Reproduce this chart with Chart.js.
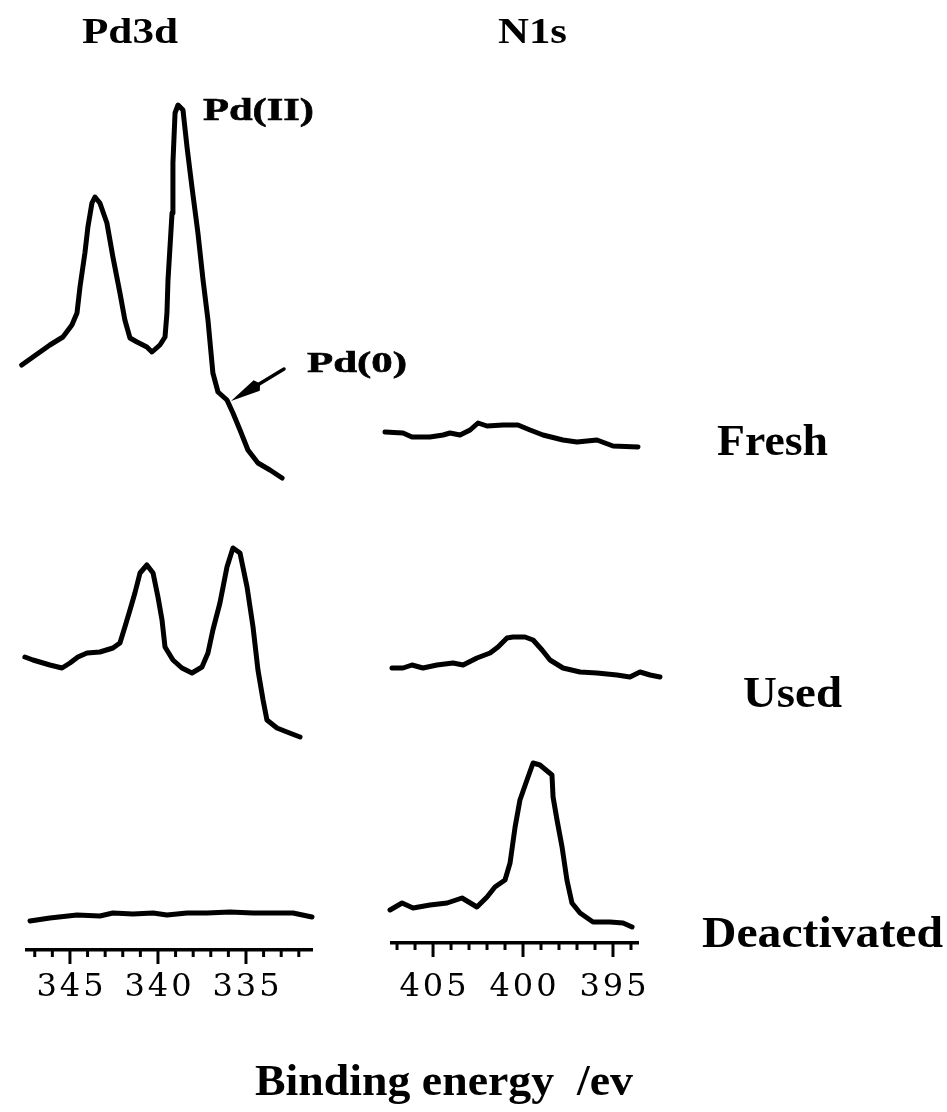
<!DOCTYPE html>
<html>
<head>
<meta charset="utf-8">
<script src="https://cdn.jsdelivr.net/npm/chart.js@4.4.1/dist/chart.umd.min.js"></script>
<style>
  html, body { margin: 0; padding: 0; background: #fff; }
  #wrap { position: relative; width: 947px; height: 1112px; overflow: hidden; background: #fff; }
  canvas { position: absolute; left: 0; top: 0; }
  svg { position: absolute; left: 0; top: 0; }
  svg text { font-family: "Liberation Serif", "Times New Roman", serif; font-weight: bold; fill: #000; white-space: pre; }
</style>
</head>
<body>
<div id="wrap">
  <canvas id="pd" width="947" height="1112"></canvas>
  <canvas id="n1s" width="947" height="1112"></canvas>
  <svg width="947" height="1112" xmlns="http://www.w3.org/2000/svg">
    <text x="82" y="43" font-size="36" textLength="96" lengthAdjust="spacingAndGlyphs">Pd3d</text>
    <text x="498" y="43" font-size="36" textLength="69" lengthAdjust="spacingAndGlyphs">N1s</text>
    <text x="203" y="120" font-size="31" textLength="111" lengthAdjust="spacingAndGlyphs" stroke="#000" stroke-width="0.6">Pd(II)</text>
    <text x="307" y="372" font-size="29" textLength="100" lengthAdjust="spacingAndGlyphs" stroke="#000" stroke-width="0.6">Pd(0)</text>
    <text x="717" y="455" font-size="44" textLength="111" lengthAdjust="spacingAndGlyphs">Fresh</text>
    <text x="743" y="707" font-size="44" textLength="99" lengthAdjust="spacingAndGlyphs">Used</text>
    <text x="702" y="947" font-size="44" textLength="241" lengthAdjust="spacingAndGlyphs">Deactivated</text>
    <text x="255" y="1095" font-size="44" textLength="378" lengthAdjust="spacingAndGlyphs" xml:space="preserve">Binding energy  /ev</text>
  </svg>
</div>
<script>
// ---------------- DATA (binding energy in eV, intensity in a.u.) ----------------
const pdEnergyFresh = [347.74, 347.10, 346.14, 345.40, 344.89, 344.60, 344.43, 344.15, 343.98, 343.75, 343.58, 343.30, 342.90, 342.56, 342.16, 341.88, 341.59, 341.19, 340.63, 340.34, 339.89, 339.60, 339.49, 339.43, 339.20, 339.15, 339.03, 338.86, 338.58, 338.35, 338.07, 337.73, 337.44, 337.16, 336.88, 336.59, 336.08, 335.74, 335.34, 334.89, 334.32, 333.64, 332.95];
const pdFresh = [115, 123, 135, 143, 155, 167, 193, 227, 253, 277, 283, 277, 257, 223, 187, 160, 142, 138, 133, 128, 135, 143, 167, 200, 267, 317, 367, 375, 370, 333, 293, 247, 200, 160, 107, 88, 80, 67, 50, 30, 17, 10, 2];

const pdEnergyUsed = [347.56, 347.10, 346.14, 345.45, 345.00, 344.55, 344.03, 343.30, 342.56, 342.16, 341.88, 341.59, 341.31, 341.02, 340.63, 340.28, 340.00, 339.77, 339.60, 339.15, 338.64, 338.07, 337.50, 337.16, 336.88, 336.48, 336.08, 335.74, 335.34, 334.94, 334.60, 334.32, 334.03, 333.81, 333.24, 332.67, 331.93];
const pdUsed = [83, 80, 75, 72, 77, 83, 87, 88, 92, 97, 113, 130, 147, 167, 175, 167, 143, 120, 93, 80, 72, 67, 73, 87, 110, 137, 173, 192, 187, 153, 113, 70, 40, 20, 12, 8, 3];

const pdEnergyDeact = [347.27, 346.14, 344.60, 343.30, 342.56, 341.42, 340.28, 339.49, 338.35, 337.22, 335.91, 334.60, 333.47, 332.33, 331.25];
const pdDeact = [9, 12, 15, 14, 17, 16, 17, 15, 17, 17, 18, 17, 17, 17, 13];

const nEnergyFresh = [407.67, 406.67, 406.17, 405.17, 404.44, 404.06, 403.50, 402.94, 402.50, 402.00, 401.11, 400.28, 399.61, 398.89, 397.78, 397.00, 395.89, 395.00, 393.61];
const nFresh = [28, 27, 23, 23, 25, 27, 25, 30, 37, 34, 35, 35, 30, 25, 20, 18, 20, 14, 13];

const nEnergyUsed = [407.28, 406.67, 406.17, 405.56, 404.78, 403.89, 403.33, 402.56, 401.83, 401.39, 400.89, 400.56, 399.89, 399.44, 398.94, 398.50, 397.78, 396.83, 395.89, 394.78, 394.06, 393.50, 392.94, 392.39];
const nUsed = [22, 22, 25, 22, 25, 27, 25, 32, 37, 43, 52, 53, 53, 50, 40, 30, 22, 18, 17, 15, 13, 18, 15, 13];

const nEnergyDeact = [407.39, 406.72, 406.11, 405.17, 404.22, 403.39, 402.56, 402.00, 401.56, 401.00, 400.72, 400.44, 400.17, 399.78, 399.44, 399.06, 398.39, 398.33, 398.11, 397.83, 397.56, 397.28, 396.83, 396.11, 395.17, 394.44, 393.94];
const nDeact = [30, 37, 32, 35, 37, 42, 33, 43, 53, 60, 77, 113, 140, 160, 177, 175, 165, 143, 120, 93, 60, 37, 27, 18, 18, 17, 13];

const pdTickLabels = [345, 340, 335];
const nTickLabels = [405, 400, 395];
const pdRange = [331.25, 347.44];
const nRange = [393.61, 407.28];

// ---------------- helpers ----------------
const W = 947, H = 1112;
const pts = (xs, ys) => xs.map((x, i) => ({ x, y: ys[i] }));

const tickMarks = {
  id: 'tickMarks',
  beforeDraw(chart) { chart.ctx.letterSpacing = '3px'; },
  afterDraw(chart) {
    chart.ctx.letterSpacing = '0px';
    const s = chart.scales.x, ctx = chart.ctx;
    ctx.save();
    ctx.strokeStyle = '#000';
    ctx.lineWidth = 3;
    s.ticks.forEach(t => {
      const v = t.value;
      const px = s.getPixelForValue(v);
      const len = v % 5 === 0 ? 14 : 7;
      ctx.beginPath();
      ctx.moveTo(px, s.top);
      ctx.lineTo(px, s.top + len);
      ctx.stroke();
    });
    ctx.restore();
  }
};

const arrowPlugin = {
  id: 'pd0Arrow',
  afterDatasetsDraw(chart, args, opts) {
    if (!opts || !opts.tip) return;
    const xs = chart.scales.x, ys = chart.scales[opts.axis];
    const tx = xs.getPixelForValue(opts.tip[0]), ty = ys.getPixelForValue(opts.tip[1]);
    const sx = xs.getPixelForValue(opts.tail[0]), sy = ys.getPixelForValue(opts.tail[1]);
    const ang = Math.atan2(sy - ty, sx - tx);
    const hl = 30, hw = 6;
    const bx = tx + Math.cos(ang) * hl, by = ty + Math.sin(ang) * hl;
    const ctx = chart.ctx;
    ctx.save();
    ctx.strokeStyle = '#000';
    ctx.fillStyle = '#000';
    ctx.lineWidth = 3.5;
    ctx.lineCap = 'round';
    ctx.beginPath(); ctx.moveTo(bx, by); ctx.lineTo(sx, sy); ctx.stroke();
    ctx.beginPath();
    ctx.moveTo(tx, ty);
    ctx.lineTo(bx + Math.cos(ang + Math.PI / 2) * hw, by + Math.sin(ang + Math.PI / 2) * hw);
    ctx.lineTo(bx + Math.cos(ang) * 4, by + Math.sin(ang) * 4);
    ctx.lineTo(bx + Math.cos(ang - Math.PI / 2) * hw, by + Math.sin(ang - Math.PI / 2) * hw);
    ctx.closePath();
    ctx.fill();
    ctx.restore();
  }
};

function yAxis(box, basePx) {
  const min = basePx - box.bottom;
  return { type: 'linear', display: false, bounds: 'data', min: min, max: min + (box.bottom - box.top) };
}

function line(data, axis) {
  return {
    data, yAxisID: axis, borderColor: '#000', borderWidth: 5, pointRadius: 0,
    tension: 0, fill: false, clip: false, borderJoinStyle: 'round', borderCapStyle: 'round'
  };
}

function makePanel(id, box, range, tickLabels, series, bases, extra, labelPad) {
  const scales = {
    x: {
      type: 'linear', reverse: true, bounds: 'data', min: range[0], max: range[1],
      grid: { display: false, drawTicks: false },
      border: { display: true, color: '#000', width: 3.5 },
      ticks: {
        autoSkip: false, maxRotation: 0, padding: labelPad, labelOffset: 1.5,
        color: '#000', font: { family: 'DejaVu Serif', size: 32 },
        callback: v => tickLabels.includes(v) ? String(v) : ''
      },
      afterBuildTicks: s => {
        const t = [];
        for (let v = Math.ceil(s.min); v <= Math.floor(s.max); v++) t.push({ value: v });
        s.ticks = t;
      },
      afterFit: s => { s.height = 80; }
    },
    yF: yAxis(box, bases[0]),
    yU: yAxis(box, bases[1]),
    yD: yAxis(box, bases[2])
  };
  return new Chart(document.getElementById(id), {
    type: 'line',
    data: {
      datasets: [
        line(series[0], 'yF'),
        line(series[1], 'yU'),
        line(series[2], 'yD')
      ]
    },
    options: {
      responsive: false, animation: false, devicePixelRatio: 1,
      layout: { padding: { left: box.left, right: W - box.right, top: box.top, bottom: H - box.bottom - 80 } },
      plugins: { legend: { display: false }, tooltip: { enabled: false }, title: { display: false }, pd0Arrow: extra || {} },
      scales
    },
    plugins: [tickMarks, arrowPlugin]
  });
}

makePanel('pd', { left: 27, right: 312, top: 60, bottom: 950 }, pdRange, pdTickLabels,
  [pts(pdEnergyFresh, pdFresh), pts(pdEnergyUsed, pdUsed), pts(pdEnergyDeact, pdDeact)],
  [480, 740, 930],
  { axis: 'yF', tip: [335.85, 79], tail: [332.84, 111] }, 18);

makePanel('n1s', { left: 392, right: 638, top: 60, bottom: 943 }, nRange, nTickLabels,
  [pts(nEnergyFresh, nFresh), pts(nEnergyUsed, nUsed), pts(nEnergyDeact, nDeact)],
  [460, 690, 940], null, 25);
</script>
</body>
</html>
